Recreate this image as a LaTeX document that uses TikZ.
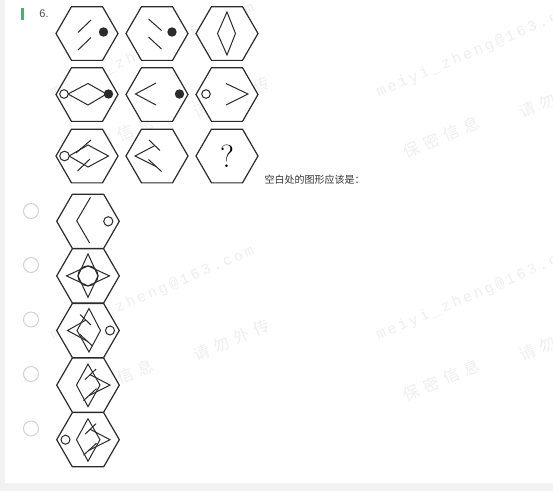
\documentclass[tikz,border=0pt]{standalone}
\usepackage{fontspec}
\usetikzlibrary{shapes.geometric}
\setsansfont{Liberation Sans}
\newfontfamily\cjk{Noto Sans CJK SC}
\newfontfamily\wmlatin[LetterSpace=18]{Liberation Mono}
\newfontfamily\wmcjk[LetterSpace=35]{Noto Sans CJK SC}
\definecolor{pagegray}{HTML}{F2F2F2}
\definecolor{bargreen}{HTML}{3DB86B}
\definecolor{wmgray}{HTML}{EFEFEF}
\definecolor{ink}{HTML}{2B2B2B}
\definecolor{radiogray}{HTML}{D2D2D2}
\tikzset{
  hexa/.style={regular polygon, regular polygon sides=6, minimum size=62pt,
    inner sep=0pt, draw=ink, line width=1.2pt, fill=white},
  opthexa/.style={hexa, minimum size=62.6pt},
  fig/.style={draw=ink, line width=1pt},
  blackdot/.style={fill=ink},
  ring/.style={draw=ink, line width=1pt, fill=white},
  radio/.style={circle, draw=radiogray, line width=1pt, minimum size=15pt, inner sep=0pt},
  wmlat/.style={text=wmgray, rotate=23, anchor=south west, inner sep=0pt,
    font=\wmlatin\fontsize{15}{15}\selectfont},
  wmzh/.style={text=wmgray, rotate=23, anchor=south west, inner sep=0pt,
    font=\wmcjk\fontsize{16}{16}\selectfont},
}

\begin{document}
\begin{tikzpicture}[x=1pt,y=-1pt]
  \useasboundingbox (0,0) rectangle (553,491);
  \fill[pagegray] (0,0) rectangle (553,491);
  \fill[white] (5,0) rectangle (553,483);

  % watermark tiles
  \node[wmlat] (wma) at (380,343) {meiyi\_zheng@163.com};
  \node[wmzh] (wmb) at (407,403) {保密信息};
  \node[wmzh] (wmc) at (523,363) {请勿外传};
  \node[wmlat] (wmd) at (54,343) {meiyi\_zheng@163.com};
  \node[wmzh] (wme) at (81,403) {保密信息};
  \node[wmzh] (wmf) at (197,363) {请勿外传};
  \node[wmlat] (wmg) at (380,100) {meiyi\_zheng@163.com};
  \node[wmzh] (wmh) at (407,160) {保密信息};
  \node[wmzh] (wmi) at (523,120) {请勿外传};
  \node[wmlat] (wmj) at (54,100) {meiyi\_zheng@163.com};
  \node[wmzh] (wmk) at (81,160) {保密信息};
  \node[wmzh] (wml) at (197,120) {请勿外传};

  % question header
  \fill[bargreen] (21,8) rectangle (24,20);
  \node[font=\sffamily\fontsize{11}{11}\selectfont, text=black!70] (num) at (44,14) {6.};

  % the 3x3 grid
  \node[hexa] (q1) at (87,33.5) {};
  \node[hexa] (q2) at (157,33.5) {};
  \node[hexa] (q3) at (227,33.5) {};
  \node[hexa] (q4) at (87,94.5) {};
  \node[hexa] (q5) at (157,94.5) {};
  \node[hexa] (q6) at (227,94.5) {};
  \node[hexa] (q7) at (87,156) {};
  \node[hexa] (q8) at (157,156) {};
  \node[hexa, font=\fontsize{32}{32}\selectfont] (q9) at (227,156) {?};

  \begin{scope}[shift={(q1)}]
    \draw[fig] (-9,-1) -- (4,-13.5) (-9,16.5) -- (4,4);
    \fill[blackdot] (16.5,-1.5) circle (4.7);
  \end{scope}
  \begin{scope}[shift={(q2)}]
    \draw[fig] (-8.5,-14.5) -- (4.5,-3) (-8.5,3.5) -- (4.5,15.5);
    \fill[blackdot] (15,-1.5) circle (4.7);
  \end{scope}
  \begin{scope}[shift={(q3)}]
    \draw[fig] (0,-21.5) -- (8.5,0) -- (0,21.5) -- (-9.5,0) -- cycle;
  \end{scope}
  \begin{scope}[shift={(q4)}]
    \draw[fig] (-19,-0.5) -- (1,-11) -- (19.5,-0.5) -- (1,10.5) -- cycle;
    \draw[ring] (-23,-0.5) circle (4.3);
    \fill[blackdot] (21.5,-0.5) circle (4.7);
  \end{scope}
  \begin{scope}[shift={(q5)}]
    \draw[fig] (-1,-11.5) -- (-21.5,-0.5) -- (-1,10.5);
    \fill[blackdot] (22.5,-0.5) circle (4.7);
  \end{scope}
  \begin{scope}[shift={(q6)}]
    \draw[fig] (-1,-11) -- (21,-0.5) -- (-1,10.5);
    \draw[ring] (-21,-0.5) circle (4.3);
  \end{scope}
  \begin{scope}[shift={(q7)}]
    \draw[fig] (-18,0) -- (1,-11) -- (21.5,0) -- (1,11) -- cycle;
    \draw[fig] (-11,-3) -- (4,-16) (-9.5,15) -- (3,3);
    \draw[ring] (-22.5,0) circle (4.8);
  \end{scope}
  \begin{scope}[shift={(q8)}]
    \draw[fig] (-2,-10.5) -- (-22,0) -- (-1,10.5);
    \draw[fig] (-8,-16) -- (3,-5.5) (-8.5,3.5) -- (4.5,15.5);
  \end{scope}

  \node[anchor=west, font=\cjk\fontsize{10}{10}\selectfont, text=black!80] (ask) at (261,180) {空白处的图形应该是：};

  % answer options
  \node[radio] (r1) at (31,211) {};
  \node[radio] (r2) at (31,265) {};
  \node[radio] (r3) at (31,319.5) {};
  \node[radio] (r4) at (31,374) {};
  \node[radio] (r5) at (31,428.5) {};

  \node[opthexa] (o1) at (88,221.3) {};
  \node[opthexa] (o2) at (88,275.9) {};
  \node[opthexa] (o3) at (88,330.5) {};
  \node[opthexa] (o4) at (88,385.1) {};
  \node[opthexa] (o5) at (88,439.7) {};

  \begin{scope}[shift={(o1)}]
    \draw[fig] (2.5,-24) -- (-11.3,-0.5) -- (1.5,21.5);
    \draw[ring] (20.3,0) circle (4.6);
  \end{scope}
  \begin{scope}[shift={(o2)}]
    \draw[fig] (-21.5,0) -- (0,-10) -- (21.5,0) -- (0,10) -- cycle;
    \draw[fig] (0,-22) -- (10,0) -- (0,21.5) -- (-10,0) -- cycle;
    \draw[fig] (0,0) circle (10);
  \end{scope}
  \begin{scope}[shift={(o3)}]
    \draw[fig] (1,-22) -- (12.5,0) -- (1,21.5) -- (-11,0) -- cycle;
    \draw[fig] (-2,-10.5) -- (-20.5,0) -- (-1,10.5);
    \draw[fig] (-8,-16) -- (3,-5.5) (-8.5,3.5) -- (4.5,15.5);
    \draw[ring] (22,0) circle (4.5);
  \end{scope}
  \begin{scope}[shift={(o4)}]
    \draw[fig] (0,-21) -- (12,0) -- (0,21.5) -- (-11.5,0) -- cycle;
    \draw[fig] (2,-10.5) -- (22,0) -- (1,10.5);
    \draw[fig] (8,-16) -- (-3,-5.5) (8.5,3.5) -- (-4.5,15.5);
  \end{scope}
  \begin{scope}[shift={(o5)}]
    \draw[fig] (0,-21) -- (12,0) -- (0,21.5) -- (-11.5,0) -- cycle;
    \draw[fig] (2,-10.5) -- (22,0) -- (1,10.5);
    \draw[fig] (8,-16) -- (-3,-5.5) (8.5,3.5) -- (-4.5,15.5);
    \draw[ring] (-22.5,0) circle (4.5);
  \end{scope}
\end{tikzpicture}
\end{document}
